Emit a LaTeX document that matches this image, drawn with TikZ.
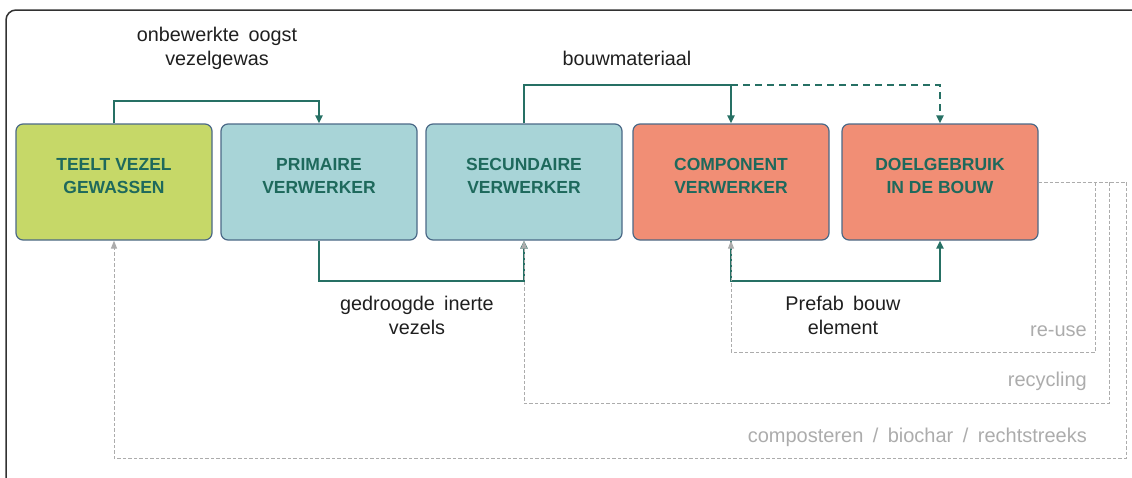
\documentclass[tikz,border=0pt]{standalone}
\usepackage{fontspec}
\setmainfont{Liberation Sans}
\newfontfamily\lblfont{Liberation Sans}[WordSpace=1.7]
\usetikzlibrary{arrows.meta}
\definecolor{cgreen}{RGB}{198,216,104}
\definecolor{cblue}{RGB}{168,212,215}
\definecolor{csalmon}{RGB}{241,142,117}
\definecolor{cborder}{RGB}{75,105,135}
\definecolor{ctext}{RGB}{30,105,92}
\definecolor{cline}{RGB}{38,112,100}
\definecolor{cgray}{RGB}{172,172,172}
\definecolor{cframe}{RGB}{50,50,50}
\begin{document}
\begin{tikzpicture}[x=1pt,y=-1pt,
 box/.style={draw=cborder, line width=1.2pt, rounded corners=7pt, minimum width=196pt, minimum height=116pt, inner sep=0pt},
 boxtext/.style={text=ctext, font=\fontsize{17.5}{23}\selectfont\bfseries, align=center, inner sep=0pt},
 lbl/.style={font=\lblfont\fontsize{19.8}{24}\selectfont, align=center, text=black!88, inner sep=0pt},
 glbl/.style={font=\lblfont\fontsize{20}{24}\selectfont, text=cgray, anchor=east, inner sep=0pt},
 flow/.style={draw=cline, line width=2pt, -{Triangle[length=8pt,width=7pt]}},
 ret/.style={draw=cgray, line width=1pt, dash pattern=on 3.5pt off 2pt, -{Triangle[length=8pt,width=6pt]}}
]
\useasboundingbox (0,0) rectangle (1132,477);
\clip (0,0) rectangle (1132,477);
\draw[cframe, line width=1.5pt, rounded corners=10pt] (6,10) rectangle (1160,500);

% boxes
\node[box, fill=cgreen]  (b1) at (114,182) {};
\node[box, fill=cblue]   (b2) at (319,182) {};
\node[box, fill=cblue]   (b3) at (524,182) {};
\node[box, fill=csalmon] (b4) at (731,182) {};
\node[box, fill=csalmon] (b5) at (940,182) {};

\node[boxtext] (t1) at (114,176) {TEELT VEZEL\\GEWASSEN};
\node[boxtext] (t2) at (319,176) {PRIMAIRE\\VERWERKER};
\node[boxtext] (t3) at (524,176) {SECUNDAIRE\\VERWERKER};
\node[boxtext] (t4) at (731,176) {COMPONENT\\VERWERKER};
\node[boxtext] (t5) at (940,176) {DOELGEBRUIK\\IN DE BOUW};

% green flows
\draw[flow] (b1.north) -- ++(0,-22) -| (b2.north);
\draw[flow] (b3.north) -- ++(0,-38) -| (b4.north);
\coordinate (d1) at ([yshift=38pt]b4.north);
\draw[flow, dash pattern=on 7pt off 5pt] (d1) -| (b5.north);
\draw[flow] (b2.south) -- ++(0,40) -| (b3.south);
\draw[flow] (b4.south) -- ++(0,40) -| (b5.south);

% grey return loops
\coordinate (r0) at (b5.east);
\coordinate (r1) at (1095,182);
\coordinate (r2) at (1109,182);
\coordinate (r3) at (1126,182);
\draw[ret, -] (r0) -- (r3);
\draw[ret] (r1) -- (1095,352) -| (b4.south);
\draw[ret] (r2) -- (1109,403) -| (b3.south);
\draw[ret] (r3) -- (1126,458) -| (b1.south);

% labels
\node[lbl] (l1) at (217,48) {onbewerkte oogst\\vezelgewas};
\node[lbl] (l2) at (627,58) {bouwmateriaal};
\node[lbl] (l3) at (417,315) {gedroogde inerte\\vezels};
\node[lbl] (l4) at (843,315) {Prefab bouw\\element};
\node[glbl] (g1) at (1087,331) {re-use};
\node[glbl] (g2) at (1087,381) {recycling};
\node[glbl] (g3) at (1087,437) {composteren / biochar / rechtstreeks};
\end{tikzpicture}
\end{document}
